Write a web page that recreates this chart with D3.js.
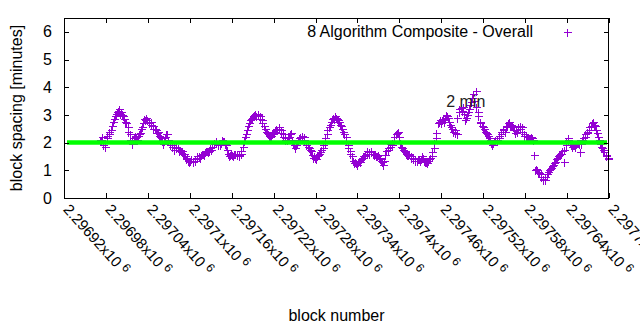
<!DOCTYPE html>
<html>
<head>
<meta charset="utf-8">
<script src="https://cdn.jsdelivr.net/npm/d3@7"></script>
<style>
  html, body { margin: 0; padding: 0; background: #fff; }
  svg { display: block; }
  text { font-family: "Liberation Sans", Arial, sans-serif; }
</style>
</head>
<body>
<svg id="chart" width="640" height="330"></svg>
<script>
// ---------------- data ----------------
const seriesName = "8 Algorithm Composite - Overall";
const targetSpacing = 2;            // minutes (green reference line)
const annotationText = "2 min";
const annotationBlock = 2297467;
const annotationValue = 3.5;

// block numbers (first pass of readings)
const blocks = [
  2296972,2296975,2296978,2296981,2296984,2296987,2296990,2296993,2296996,2296999,
  2297002,2297005,2297008,2297011,2297014,2297017,2297020,2297023,2297026,2297029,
  2297032,2297035,2297038,2297041,2297044,2297047,2297050,2297053,2297056,2297059,
  2297062,2297065,2297068,2297071,2297074,2297077,2297080,2297083,2297086,2297089,
  2297092,2297095,2297098,2297101,2297104,2297107,2297110,2297113,2297116,2297119,
  2297122,2297125,2297128,2297131,2297134,2297137,2297140,2297143,2297146,2297149,
  2297152,2297155,2297158,2297161,2297164,2297167,2297170,2297173,2297176,2297179,
  2297182,2297185,2297188,2297191,2297194,2297197,2297200,2297203,2297206,2297209,
  2297212,2297215,2297218,2297221,2297224,2297227,2297230,2297233,2297236,2297239,
  2297242,2297245,2297248,2297251,2297254,2297257,2297260,2297263,2297266,2297269,
  2297272,2297275,2297278,2297281,2297284,2297287,2297290,2297293,2297296,2297299,
  2297302,2297305,2297308,2297311,2297314,2297317,2297320,2297323,2297326,2297329,
  2297332,2297335,2297338,2297341,2297344,2297347,2297350,2297353,2297356,2297359,
  2297362,2297365,2297368,2297371,2297374,2297377,2297380,2297383,2297386,2297389,
  2297392,2297395,2297398,2297401,2297404,2297407,2297410,2297413,2297416,2297419,
  2297422,2297425,2297428,2297431,2297434,2297437,2297440,2297443,2297446,2297449,
  2297452,2297455,2297458,2297461,2297464,2297467,2297470,2297473,2297476,2297479,
  2297482,2297485,2297488,2297491,2297494,2297497,2297500,2297503,2297506,2297509,
  2297512,2297515,2297518,2297521,2297524,2297527,2297530,2297533,2297536,2297539,
  2297542,2297545,2297548,2297551,2297554,2297557,2297560,2297563,2297566,2297569,
  2297572,2297575,2297578,2297581,2297584,2297587,2297590,2297593,2297596,2297599,
  2297602,2297605,2297608,2297611,2297614,2297617,2297620,2297623,2297626,2297629,
  2297632,2297635,2297638,2297641,2297644,2297647,2297650,2297653,2297656,2297659,
  2297662,2297665,2297668,2297671,2297674,2297677,2297680,2297683,2297686,2297689,
  2297692,2297695,2297698
];

const spacingMinutes = [
  2.1,2.2,1.85,2.15,2.3,2.45,2.75,2.95,3.1,3.2,3.1,2.95,2.75,2.55,2.3,1.95,2.15,2.2,2.25,2.35,2.55,
  2.85,2.9,2.75,2.65,2.6,2.5,2.35,2.25,2.15,1.95,2.2,2.3,2.0,1.85,1.85,1.8,1.8,1.75,1.7,1.6,
  1.4,1.35,1.35,1.3,1.4,1.45,1.5,1.55,1.6,1.65,1.7,1.7,1.75,1.95,2.05,1.95,1.9,2.1,2.05,1.9,
  1.6,1.55,1.55,1.6,1.55,1.5,1.6,1.85,2.2,2.45,2.7,2.85,2.95,3.05,3.05,2.95,2.8,2.6,2.4,2.3,
  2.2,2.3,2.4,2.5,2.55,2.45,2.3,2.15,2.1,2.2,2.35,2.0,1.8,2.0,2.15,2.2,2.2,2.0,1.85,1.75,
  1.55,1.5,1.4,1.55,1.65,1.8,2.0,2.3,2.55,2.75,2.9,2.95,2.85,2.75,2.6,2.4,2.2,1.9,1.7,1.5,
  1.25,1.25,1.3,1.3,1.45,1.5,1.6,1.65,1.65,1.6,1.6,1.5,1.45,1.35,1.2,1.55,1.8,1.85,1.9,2.05,
  2.3,2.4,2.0,1.8,1.7,1.6,1.55,1.5,1.45,1.4,1.35,1.4,1.4,1.45,1.3,1.25,1.4,1.5,1.8,2.15,
  2.7,2.8,2.8,2.75,3.0,2.9,2.65,2.5,2.35,2.3,3.1,3.25,3.3,2.8,3.0,3.2,3.45,3.75,3.85,3.1,
  2.75,2.6,2.5,2.35,2.25,2.1,1.9,2.05,2.1,2.15,2.3,2.5,2.4,2.6,2.75,2.65,2.55,2.35,2.4,2.6,
  2.55,2.3,2.25,2.2,2.15,2.15,1.55,1.05,0.95,0.85,0.7,0.65,0.85,1.0,1.1,1.2,1.3,1.45,1.55,1.6,
  1.3,1.9,2.15,2.0,1.85,1.9,1.95,2.0,1.65,2.1,2.2,2.35,2.45,2.6,2.75,2.6,2.35,2.1,1.85,1.75,
  1.5,1.45
];

// block numbers in between (second pass of readings, showing the band's spread)
const blocksBetween = [
  2296973,2296976,2296979,2296982,2296985,2296988,2296991,2296994,2296997,2297000,
  2297003,2297006,2297009,2297012,2297015,2297018,2297021,2297024,2297027,2297030,
  2297033,2297036,2297039,2297042,2297045,2297048,2297051,2297054,2297057,2297060,
  2297063,2297066,2297069,2297072,2297075,2297078,2297081,2297084,2297087,2297090,
  2297093,2297096,2297099,2297102,2297105,2297108,2297111,2297114,2297117,2297120,
  2297123,2297126,2297129,2297132,2297135,2297138,2297141,2297144,2297147,2297150,
  2297153,2297156,2297159,2297162,2297165,2297168,2297171,2297174,2297177,2297180,
  2297183,2297186,2297189,2297192,2297195,2297198,2297201,2297204,2297207,2297210,
  2297213,2297216,2297219,2297222,2297225,2297228,2297231,2297234,2297237,2297240,
  2297243,2297246,2297249,2297252,2297255,2297258,2297261,2297264,2297267,2297270,
  2297273,2297276,2297279,2297282,2297285,2297288,2297291,2297294,2297297,2297300,
  2297303,2297306,2297309,2297312,2297315,2297318,2297321,2297324,2297327,2297330,
  2297333,2297336,2297339,2297342,2297345,2297348,2297351,2297354,2297357,2297360,
  2297363,2297366,2297369,2297372,2297375,2297378,2297381,2297384,2297387,2297390,
  2297393,2297396,2297399,2297402,2297405,2297408,2297411,2297414,2297417,2297420,
  2297423,2297426,2297429,2297432,2297435,2297438,2297441,2297444,2297447,2297450,
  2297453,2297456,2297459,2297462,2297465,2297468,2297471,2297474,2297477,2297480,
  2297483,2297486,2297489,2297492,2297495,2297498,2297501,2297504,2297507,2297510,
  2297513,2297516,2297519,2297522,2297525,2297528,2297531,2297534,2297537,2297540,
  2297543,2297546,2297549,2297552,2297555,2297558,2297561,2297564,2297567,2297570,
  2297573,2297576,2297579,2297582,2297585,2297588,2297591,2297594,2297597,2297600,
  2297603,2297606,2297609,2297612,2297615,2297618,2297621,2297624,2297627,2297630,
  2297633,2297636,2297639,2297642,2297645,2297648,2297651,2297654,2297657,2297660,
  2297663,2297666,2297669,2297672,2297675,2297678,2297681,2297684,2297687,2297690,
  2297693,2297696,2297699
];

const spacingMinutesBetween = [
  2.05,1.9,2.0,2.25,2.4,2.6,2.85,3.05,3.15,3.05,3.0,2.85,2.7,2.4,2.1,2.1,2.25,2.1,2.3,2.5,2.7,
  2.8,2.8,2.7,2.75,2.5,2.45,2.4,2.2,2.05,2.05,2.3,2.1,1.9,1.9,1.75,1.85,1.7,1.7,1.6,1.5,
  1.45,1.3,1.4,1.35,1.35,1.5,1.45,1.6,1.55,1.7,1.65,1.8,1.85,2.0,2.0,1.9,2.0,2.05,1.95,1.75,
  1.5,1.6,1.5,1.6,1.6,1.55,1.7,2.05,2.3,2.6,2.8,2.9,3.0,2.95,3.0,2.85,2.7,2.5,2.35,2.25,
  2.25,2.35,2.45,2.45,2.5,2.35,2.2,2.1,2.15,2.3,2.1,1.9,1.9,2.1,2.2,2.25,2.1,1.9,1.8,1.7,
  1.45,1.45,1.5,1.6,1.75,1.9,2.15,2.45,2.65,2.85,2.85,2.9,2.8,2.65,2.5,2.3,2.05,1.8,1.6,1.35,
  1.3,1.2,1.35,1.4,1.5,1.55,1.7,1.6,1.7,1.55,1.5,1.55,1.4,1.3,1.35,1.7,1.75,1.95,2.0,2.2,
  2.35,2.2,1.85,1.75,1.65,1.55,1.6,1.45,1.4,1.35,1.4,1.35,1.5,1.35,1.3,1.35,1.45,1.65,2.0,2.35,
  2.75,2.7,2.85,2.9,2.95,2.75,2.55,2.4,2.45,2.9,3.2,3.15,3.05,2.9,3.1,3.35,3.6,3.5,3.3,2.95,
  2.7,2.55,2.4,2.3,2.15,2.0,2.0,2.1,2.05,2.25,2.4,2.45,2.55,2.7,2.6,2.6,2.45,2.45,2.55,2.5,
  2.4,2.25,2.2,2.15,2.2,2.1,1.0,1.0,0.9,0.75,0.65,0.75,0.95,1.05,1.15,1.25,1.4,1.5,1.6,1.7,
  1.75,2.05,2.1,1.9,1.9,1.85,2.0,1.95,1.95,2.15,2.3,2.4,2.55,2.7,2.65,2.45,2.2,1.95,1.8,1.65,
  1.55,1.4
];

const xTickValues = [2296920,2296980,2297040,2297100,2297160,2297220,2297280,
                     2297340,2297400,2297460,2297520,2297580,2297640,2297700];
const xTickMantissas = ["2.29692","2.29698","2.29704","2.2971","2.29716","2.29722","2.29728",
                        "2.29734","2.2974","2.29746","2.29752","2.29758","2.29764","2.2977"];
const xTickExponent = "6";
const yTickValues = [0,1,2,3,4,5,6];
const xDomain = [2296920, 2297700];
const yDomain = [0, 6.5];
const xTitle = "block number";
const yTitle = "block spacing [minutes]";

// ---------------- drawing ----------------
const svg = d3.select("#chart");
const L = 64, R = 609, T = 18, B = 198;
const x = d3.scaleLinear().domain(xDomain).range([L, R]);
const y = d3.scaleLinear().domain(yDomain).range([B, T]);
const purple = "#9400d3";
const FONT = "16px";

const data = blocks.map((b, i) => ({ b, v: spacingMinutes[i] }))
  .concat(blocksBetween.map((b, i) => ({ b, v: spacingMinutesBetween[i] })));

// points
const cross = "M-4,0H4M0,-4V4";
svg.append("g").selectAll("path").data(data).join("path")
  .attr("d", cross)
  .attr("transform", d => `translate(${Math.round(x(d.b)) + 0.5},${Math.round(y(d.v)) + 0.5})`)
  .attr("fill", "none").attr("stroke", purple).attr("stroke-width", 1)
  .attr("shape-rendering", "crispEdges");

// target line
svg.append("line")
  .attr("x1", x.range()[0] + 3).attr("x2", x.range()[1] - 2)
  .attr("y1", y(targetSpacing)).attr("y2", y(targetSpacing))
  .attr("stroke", "#00ff00").attr("stroke-width", 4.5);

// axes
const xAxis = svg.append("g").attr("transform", `translate(0,${B})`)
  .call(d3.axisBottom(x).tickValues(xTickValues).tickSize(-5).tickSizeOuter(0));
xAxis.select(".domain").remove();
xAxis.selectAll("text").each(function(d, i) {
  const t = d3.select(this);
  t.text(null).attr("x", null).attr("y", null).attr("dy", null)
   .attr("text-anchor", "start")
   .attr("transform", "translate(-2,12) rotate(48)")
   .style("font-size", "15px").attr("fill", "#000");
  t.append("tspan").text(xTickMantissas[i] + "x10");
  t.append("tspan").attr("dx", 4).attr("dy", -5).style("font-size", "12px").text(xTickExponent);
});

const xTop = svg.append("g").attr("transform", `translate(0,${T})`)
  .call(d3.axisTop(x).tickValues(xTickValues).tickSize(-5).tickFormat(""));
xTop.select(".domain").remove();

const yAxis = svg.append("g").attr("transform", `translate(${L},0)`)
  .call(d3.axisLeft(y).tickValues(yTickValues).tickFormat(d3.format("d")).tickSize(-5).tickPadding(12));
yAxis.select(".domain").remove();
yAxis.selectAll("text").style("font-size", FONT).attr("fill", "#000");

const yRight = svg.append("g").attr("transform", `translate(${R},0)`)
  .call(d3.axisRight(y).tickValues(yTickValues).tickSize(-5).tickFormat(""));
yRight.select(".domain").remove();

svg.selectAll(".tick line").attr("stroke", "#000").attr("shape-rendering", "crispEdges");
svg.selectAll("g").attr("font-family", null).attr("font-size", null);

// border
svg.append("rect").attr("x", L + 0.5).attr("y", T + 0.5)
  .attr("width", R - L - 1).attr("height", B - T)
  .attr("fill", "none").attr("stroke", "#000").attr("stroke-width", 1)
  .attr("shape-rendering", "crispEdges");

// legend
svg.append("text").attr("x", 533).attr("y", y(6)).attr("dy", "0.35em")
  .attr("text-anchor", "end").style("font-size", FONT).text(seriesName);
svg.append("path").attr("d", cross)
  .attr("transform", `translate(567.5,${Math.round(y(6)) + 0.5})`)
  .attr("fill", "none").attr("stroke", purple).attr("shape-rendering", "crispEdges");

// annotation
svg.append("text").attr("x", x(annotationBlock)).attr("y", y(annotationValue))
  .attr("dy", "0.35em").style("font-size", FONT).attr("fill", "#222").text(annotationText);

// axis titles
svg.append("text").attr("x", (L + R) / 2).attr("y", 321)
  .attr("text-anchor", "middle").style("font-size", FONT).text(xTitle);
svg.append("text").attr("transform", `translate(22,${(T + B) / 2}) rotate(-90)`)
  .attr("text-anchor", "middle").style("font-size", FONT).text(yTitle);
</script>
</body>
</html>
